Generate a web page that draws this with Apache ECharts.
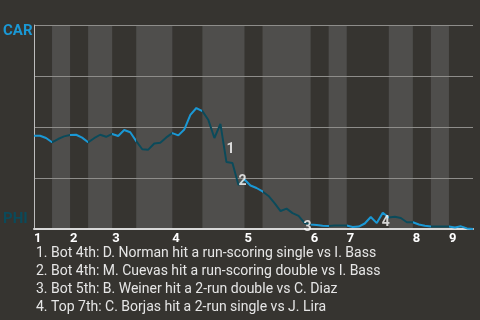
<!DOCTYPE html>
<html><head><meta charset="utf-8">
<script src="https://cdn.jsdelivr.net/npm/echarts@6/dist/echarts.min.js"></script>
<style>html,body{margin:0;padding:0;background:#363430;}#c{width:480px;height:320px;}</style>
</head><body><div id="c"></div>
<script>
// half-inning start indices (event number), last entry = end of game
const halfStarts = [0,3,6,9,13,17,23,28,35,38,46,49,52,59,63,66,69,73];
const inningLabels = ['1','2','3','4','5','6','7','8','9'];
// CAR win probability (%) after each event
const carWinPct = [45.7,45.7,44.6,42.5,44.1,45.4,46.1,46.2,44.8,42.5,
  44.5,46.2,45.2,46.6,45.6,48.5,47.4,43.1,39.1,38.9,
  41.9,42.3,44.9,47.0,45.9,48.8,55.9,59.3,57.8,53.4,
  44.6,51.5,32.8,32.4,21.6,24.3,21.3,20.1,18.4,16.2,
  12.7,8.8,10.0,7.8,6.4,2.9,2.2,2.0,1.6,1.5,
  1.7,1.7,1.7,1.0,1.2,2.7,5.9,2.9,8.0,5.6,
  6.0,5.4,3.3,3.3,2.2,1.6,1.2,1.2,1.2,1.2,
  0.7,1.3,0.3,0];
const annEvents = [32,34,45,58];
const annLabels = ['1','2','3','4'];
const notes = [
  '1. Bot 4th: D. Norman hit a run-scoring single vs I. Bass',
  '2. Bot 4th: M. Cuevas hit a run-scoring double vs I. Bass',
  '3. Bot 5th: B. Weiner hit a 2-run double vs C. Diaz',
  '4. Top 7th: C. Borjas hit a 2-run single vs J. Lira'
];
const teamTop = 'CAR', teamBottom = 'PHI';

const BLUE = '#1a98d5', TEAL = '#0b4a5a', BAND = '#4f4e4c';
const annOffsets = [[4,-13],[4,-3],[3,4],[3,10]];

const inningStarts = halfStarts.filter((v,i)=>i%2===0 && i<halfStarts.length-1);
const pieces = [];
const bands = [];
for (let k=0;k<halfStarts.length-1;k++){
  const p = {gte: halfStarts[k], color: k%2 ? TEAL : BLUE};
  if (k===halfStarts.length-2) p.lte = halfStarts[k+1]; else p.lt = halfStarts[k+1];
  pieces.push(p);
  if (k%2===1) bands.push([{xAxis: halfStarts[k]},{xAxis: halfStarts[k+1]}]);
}
const lineData = carWinPct.map((v,i)=>[i,v]);

const chart = echarts.init(document.getElementById('c'), null, {renderer:'canvas'});
chart.setOption({
  backgroundColor: '#363430',
  animation: false,
  textStyle: {fontFamily: 'Roboto'},
  title: {
    text: notes.join('\n'), left: 36, top: 244, padding: 0,
    textStyle: {color:'#e6e6e6', fontSize:14, fontWeight:'normal', lineHeight:18, fontFamily:'Roboto'}
  },
  grid: {left:34, right:7, top:25, bottom:91},
  visualMap: {show:false, type:'piecewise', dimension:0, seriesIndex:1, pieces: pieces},
  xAxis: {
    type:'value', min:0, max:halfStarts[halfStarts.length-1], z:2,
    splitLine:{show:false},
    axisLine:{show:true, lineStyle:{color:'#d8d8d8', width:2}},
    axisTick:{show:false},
    axisLabel:{
      customValues: inningStarts, align:'left', margin:3,
      color:'#ffffff', fontWeight:'bold', fontSize:13, fontFamily:'Roboto',
      formatter: v => inningLabels[inningStarts.indexOf(v)] || ''
    }
  },
  yAxis: {
    type:'value', min:0, max:100, interval:25, z:2,
    splitLine:{show:true, lineStyle:{color:'#8e8d8a', width:1}},
    axisLine:{show:true, lineStyle:{color:'#bdbdbd', width:1}},
    axisTick:{show:false},
    axisLabel:{
      customValues:[0,100], align:'left', margin:31,
      formatter: v => v===100 ? '{t|'+teamTop+'}' : '{b|'+teamBottom+'}',
      rich:{
        t:{color:BLUE, fontWeight:'bold', fontSize:15, fontFamily:'Roboto', padding:[12,0,0,0]},
        b:{color:TEAL, fontWeight:'bold', fontSize:15, fontFamily:'Roboto', padding:[0,0,20,0]}
      }
    }
  },
  series: [
    {type:'line', z:1, data:[], silent:true,
      markArea:{silent:true, itemStyle:{color:BAND}, data: bands}},
    {type:'line', z:3, data: lineData, showSymbol:false, symbol:'none',
      lineStyle:{width:2}},
    {type:'scatter', z:4, symbolSize:0, silent:true,
      data: annEvents.map((e,j)=>({value:[e, carWinPct[e]],
        label:{offset: annOffsets[j]}, name: annLabels[j]})),
      label:{show:true, position:'inside', color:'#ffffff', fontWeight:'bold', fontSize:14,
        fontFamily:'Roboto', formatter: p => p.name}}
  ]
});
</script></body></html>
